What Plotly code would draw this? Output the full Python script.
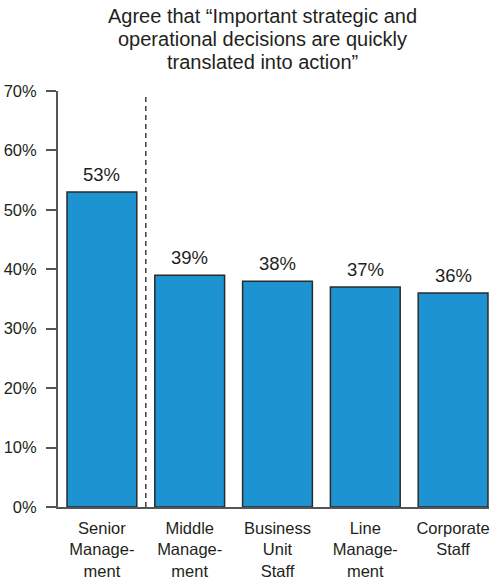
import plotly.graph_objects as go

categories = ["Senior<br>Manage-<br>ment", "Middle<br>Manage-<br>ment", "Business<br>Unit<br>Staff",
              "Line<br>Manage-<br>ment", "Corporate<br>Staff"]
values = [53, 39, 38, 37, 36]
value_labels = ["53%", "39%", "38%", "37%", "36%"]
y_ticks = [0, 10, 20, 30, 40, 50, 60, 70]
y_tick_labels = ["0%", "10%", "20%", "30%", "40%", "50%", "60%", "70%"]
title_lines = ["Agree that \u201cImportant strategic and",
               "operational decisions are quickly",
               "translated into action\u201d"]

FONT = "Liberation Sans, Arial, Helvetica, sans-serif"
TXT = "#231f20"
xs = list(range(len(categories)))

fig = go.Figure()
fig.add_trace(go.Bar(
    x=xs, y=values,
    marker=dict(color="#1e93d1", line=dict(color="#2b2b2b", width=1.5)),
    width=0.795, hoverinfo="skip",
))

for xi, v, lab in zip(xs, values, value_labels):
    fig.add_annotation(x=xi, y=v, text=lab, showarrow=False, yanchor="bottom",
                       yshift=5, font=dict(size=18.5, color=TXT, family=FONT))

for i, line in enumerate(title_lines):
    cy = 15 + 23.5 * i
    fig.add_annotation(xref="paper", yref="paper", x=(263 - 58) / 432, y=1 + (91 - cy) / 420,
                       xanchor="center", yanchor="middle", showarrow=False, text=line,
                       font=dict(size=20, color=TXT, family=FONT))

fig.add_shape(type="line", x0=0.5, x1=0.5, y0=0, y1=69.6, xref="x", yref="y",
              line=dict(color="#222", width=1.3, dash="5px,4px"))

fig.update_layout(
    width=490, height=580,
    margin=dict(l=58, r=0, t=91, b=69, pad=0),
    paper_bgcolor="white", plot_bgcolor="white",
    showlegend=False,
    font=dict(family=FONT, color=TXT),
    xaxis=dict(range=[-0.5, -0.5 + 432/88], tickvals=xs, ticktext=categories, showgrid=False,
               zeroline=False, showline=True, linecolor="#555", linewidth=2, ticks="",
               ticklabelstandoff=5, ticklabeloverflow="allow",
               tickfont=dict(size=16.5, color=TXT, family=FONT), fixedrange=True),
    yaxis=dict(range=[0, 70], tickvals=y_ticks, ticktext=y_tick_labels, showgrid=False,
               zeroline=False, showline=True, linecolor="#555", linewidth=2, ticks="outside",
               ticklen=10, tickwidth=2, tickcolor="#555", ticklabelstandoff=6,
               tickfont=dict(size=16.5, color=TXT, family=FONT), fixedrange=True),
)

fig.write_html("out.html", config={"displayModeBar": False},
               post_script="document.body.style.margin='0';document.body.style.overflow='hidden';")
